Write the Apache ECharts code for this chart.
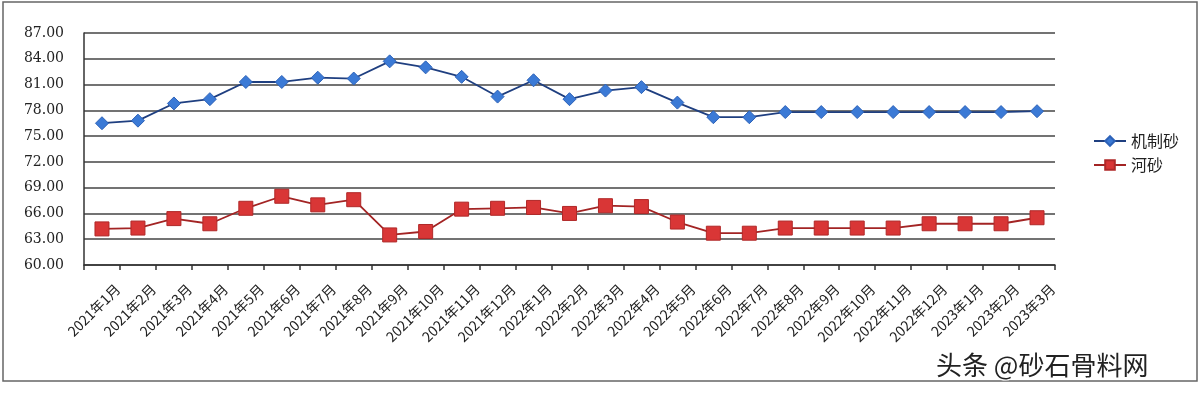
<!DOCTYPE html>
<html>
<head>
<meta charset="utf-8">
<script src="https://cdn.jsdelivr.net/npm/echarts@6/dist/echarts.min.js"></script>
<style>
  html, body { margin: 0; padding: 0; background: #fff; }
  #chart { width: 1200px; height: 398px; }
</style>
</head>
<body>
<div id="chart"></div>
<script>
// 月份
const months = [
  '2021年1月', '2021年2月', '2021年3月', '2021年4月', '2021年5月', '2021年6月',
  '2021年7月', '2021年8月', '2021年9月', '2021年10月', '2021年11月', '2021年12月',
  '2022年1月', '2022年2月', '2022年3月', '2022年4月', '2022年5月', '2022年6月',
  '2022年7月', '2022年8月', '2022年9月', '2022年10月', '2022年11月', '2022年12月',
  '2023年1月', '2023年2月', '2023年3月'
];
// 机制砂
const jizhisha = [
  76.5, 76.8, 78.8, 79.3, 81.3, 81.3, 81.8, 81.7, 83.7, 83.0, 81.9, 79.6,
  81.5, 79.3, 80.3, 80.7, 78.9, 77.2, 77.2, 77.8, 77.8, 77.8, 77.8, 77.8,
  77.8, 77.8, 77.9
];
// 河砂
const hesha = [
  64.2, 64.3, 65.4, 64.8, 66.6, 68.0, 67.0, 67.6, 63.5, 63.9, 66.5, 66.6,
  66.7, 66.0, 66.9, 66.8, 65.0, 63.7, 63.7, 64.3, 64.3, 64.3, 64.3, 64.8,
  64.8, 64.8, 65.5
];

const myChart = echarts.init(document.getElementById('chart'));

const options = {
  backgroundColor: '#ffffff',
  animation: false,
  grid: {
    left: 84,
    right: 145,
    top: 33,
    bottom: 133
  },
  legend: {
    orient: 'vertical',
    left: 1088,
    top: 128,
    itemWidth: 32,
    itemHeight: 12,
    itemGap: 8,
    textStyle: { fontSize: 16, color: '#222', fontFamily: 'Noto Sans CJK SC' },
    data: ['机制砂', '河砂']
  },
  xAxis: {
    type: 'category',
    boundaryGap: true,
    data: months,
    axisLine: { lineStyle: { color: '#333', width: 1.5 } },
    axisTick: { show: true, length: 5, lineStyle: { color: '#333', width: 1.5 } },
    axisLabel: {
      interval: 0,
      hideOverlap: false,
      rotate: 45,
      fontSize: 14,
      color: '#222',
      margin: 6,
      verticalAlign: 'top',
      lineHeight: 44,
      fontFamily: 'Noto Sans CJK SC'
    }
  },
  yAxis: {
    type: 'value',
    min: 60,
    max: 87,
    interval: 3,
    axisLine: { show: true, lineStyle: { color: '#333', width: 1.5 } },
    axisTick: { show: false },
    axisLabel: {
      fontSize: 14,
      color: '#222',
      margin: 20,
      fontFamily: 'DejaVu Serif',
      formatter: (v) => v.toFixed(2)
    },
    splitLine: { lineStyle: { color: '#444', width: 1.5 } }
  },
  series: [
    {
      name: '机制砂',
      type: 'line',
      data: jizhisha,
      symbol: 'diamond',
      symbolSize: 13,
      lineStyle: { color: '#1f3f80', width: 1.8 },
      itemStyle: { color: '#3b7ad6', borderColor: '#2d62b8', borderWidth: 1 }
    },
    {
      name: '河砂',
      type: 'line',
      data: hesha,
      symbol: 'rect',
      symbolSize: 14,
      lineStyle: { color: '#a32424', width: 1.8 },
      itemStyle: { color: '#d93636', borderColor: '#b02828', borderWidth: 1 }
    }
  ],
  graphic: [
    {
      type: 'rect',
      shape: { x: 3, y: 2, width: 1194, height: 379 },
      style: { fill: 'none', stroke: '#666', lineWidth: 1.5 },
      silent: true
    },
    {
      type: 'text',
      left: 935,
      top: 351,
      style: {
        text: '头条 @砂石骨料网',
        fontSize: 26,
        fill: '#222',
        stroke: '#fff',
        lineWidth: 2,
        fontFamily: 'Noto Sans CJK SC'
      },
      silent: true
    }
  ]
};

myChart.setOption(options);
</script>
</body>
</html>
